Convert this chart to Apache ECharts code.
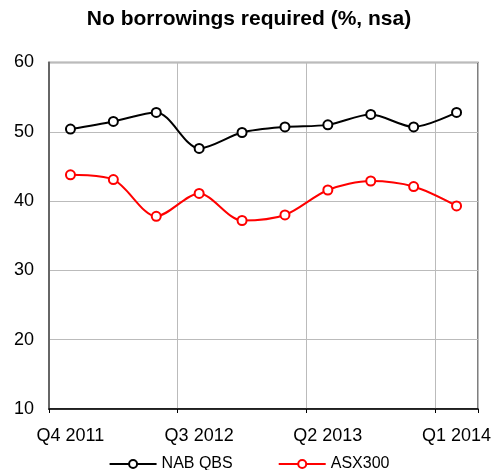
<!DOCTYPE html>
<html>
<head>
<meta charset="utf-8">
<script src="https://cdn.jsdelivr.net/npm/echarts@6/dist/echarts.min.js"></script>
<style>
  html, body { margin: 0; padding: 0; background: #fff; }
  #chart { width: 498px; height: 470px; }
</style>
</head>
<body>
<div id="chart"></div>
<script>
// Quarterly survey readings, share of firms needing no borrowings
const quarters = ['Q4 2011', 'Q1 2012', 'Q2 2012', 'Q3 2012', 'Q4 2012',
                  'Q1 2013', 'Q2 2013', 'Q3 2013', 'Q4 2013', 'Q1 2014'];
const nabQbs = [50.4, 51.5, 52.8, 47.6, 49.9, 50.7, 51.0, 52.5, 50.7, 52.8];
const asx300 = [43.8, 43.1, 37.8, 41.1, 37.2, 38.0, 41.6, 42.9, 42.1, 39.3];
const yTicks = [10, 20, 30, 40, 50, 60];

const font = 'Liberation Sans, Arial, sans-serif';
const chart = echarts.init(document.getElementById('chart'), null, { renderer: 'canvas' });

function lineSeries(name, data, color) {
  return {
    name: name,
    type: 'line',
    data: data,
    smooth: 0.3,
    symbol: 'circle',
    symbolSize: 9,
    showAllSymbol: true,
    lineStyle: { color: color, width: 2 },
    itemStyle: { color: '#fff', borderColor: color, borderWidth: 2 },
    emphasis: { disabled: true },
    z: 3
  };
}

chart.setOption({
  animation: false,
  backgroundColor: '#fff',
  title: {
    text: 'No borrowings required (%, nsa)',
    left: 'center',
    top: 4,
    textStyle: { fontFamily: font, fontSize: 21, fontWeight: 'bold', color: '#000' }
  },
  legend: {
    top: 451,
    left: 'center',
    itemWidth: 47,
    itemHeight: 10,
    itemGap: 45,
    textStyle: { fontFamily: font, fontSize: 16, color: '#000' },
    data: ['NAB QBS', 'ASX300']
  },
  grid: {
    left: 49, right: 20, top: 62.5, bottom: 61,
    show: true,
    borderColor: '#555',
    borderWidth: 1.5
  },
  xAxis: {
    type: 'category',
    data: quarters,
    boundaryGap: true,
    axisLine: { lineStyle: { color: '#000', width: 1.5 } },
    axisTick: { show: true, interval: 2, length: 4, lineStyle: { color: '#000' } },
    axisLabel: {
      interval: 2, margin: 18,
      fontFamily: font, fontSize: 18, color: '#000'
    },
    splitLine: { show: true, interval: 2, lineStyle: { color: '#bbb', width: 1 } }
  },
  yAxis: {
    type: 'value',
    min: yTicks[0],
    max: yTicks[yTicks.length - 1],
    interval: 10,
    axisLine: { show: true, lineStyle: { color: '#666', width: 2 } },
    axisTick: { show: false },
    axisLabel: { margin: 15, fontFamily: font, fontSize: 18, color: '#000' },
    splitLine: { show: true, lineStyle: { color: '#bbb', width: 1 } }
  },
  series: [
    lineSeries('NAB QBS', nabQbs, '#000'),
    lineSeries('ASX300', asx300, '#ff0000')
  ]
});
</script>
</body>
</html>
